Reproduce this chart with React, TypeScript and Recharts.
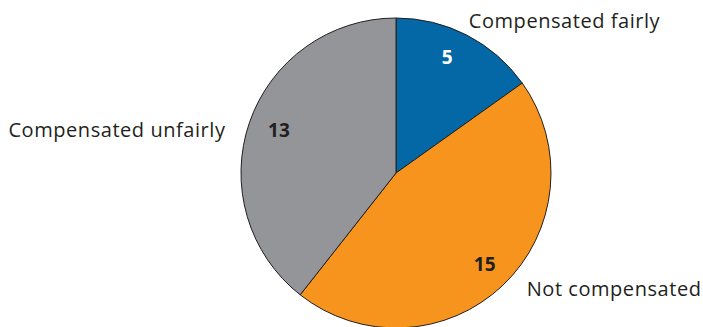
import React from 'react';
import { PieChart, Pie, Cell } from 'recharts';

/* ─── Data ───────────────────────────────────────────── */

const categories = ['Compensated fairly', 'Not compensated', 'Compensated unfairly'];
const counts = [5, 15, 13];
const colors = ['#0568A6', '#F7941E', '#939598'];

const data = categories.map((name, i) => ({ name, value: counts[i] }));

/* ─── Styles ─────────────────────────────────────────── */

const FONT = '"Open Sans", "Noto Sans", sans-serif';
const TEXT_COLOR = '#231F20';
const RAD = Math.PI / 180;

// nudges for labels, relative to the mid-angle position
const OUTER_NUDGE: [number, number][] = [
	[-6, 0],
	[12, -9],
	[-8, 13],
];
const INNER_NUDGE: [number, number][] = [
	[-7, -3],
	[1, -1],
	[3, -1],
];

function renderLabel(props: any) {
	const { cx, cy, midAngle, outerRadius, index, value, name } = props;
	const cos = Math.cos(-midAngle * RAD);
	const sin = Math.sin(-midAngle * RAD);

	const inR = outerRadius - 28;
	const [ax, ay] = INNER_NUDGE[index] ?? [0, 0];
	const ix = cx + inR * cos + ax;
	const iy = cy + inR * sin + ay;

	const outR = outerRadius + 17;
	const [nx, ny] = OUTER_NUDGE[index] ?? [0, 0];
	const ox = cx + outR * cos + nx;
	const oy = cy + outR * sin + ny;

	return (
		<g>
			<text
				x={ix}
				y={iy}
				textAnchor="middle"
				dominantBaseline="central"
				fill={index === 0 ? '#FFFFFF' : TEXT_COLOR}
				fontFamily={FONT}
				fontWeight={700}
				fontSize={19}
			>
				{value}
			</text>
			<text
				x={ox}
				y={oy}
				textAnchor={cos >= 0 ? 'start' : 'end'}
				dominantBaseline="central"
				fill={TEXT_COLOR}
				fontFamily={FONT}
				fontSize={20}
				letterSpacing={0.55}
			>
				{name}
			</text>
		</g>
	);
}

export default function App() {
	return (
		<div style={{ position: 'absolute', left: 0, top: 0, background: '#fff' }}>
			<PieChart width={703} height={327} margin={{ top: 0, right: 0, bottom: 0, left: 0 }}>
				<Pie
					data={data}
					dataKey="value"
					nameKey="name"
					cx={396}
					cy={173}
					outerRadius={155}
					startAngle={90}
					endAngle={-270}
					stroke={TEXT_COLOR}
					strokeWidth={1}
					label={renderLabel}
					labelLine={false}
					isAnimationActive={false}
				>
					{data.map((d, i) => (
						<Cell key={d.name} fill={colors[i]} />
					))}
				</Pie>
			</PieChart>
		</div>
	);
}
